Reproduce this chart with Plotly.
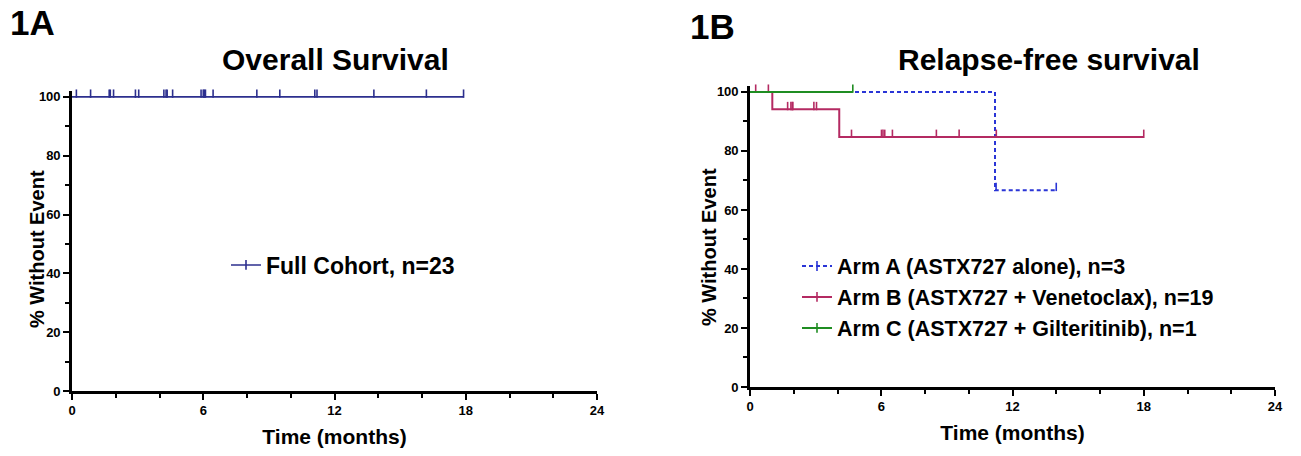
import numpy as np
import plotly.graph_objects as go

# ---------------- data ----------------
# Panel 1A: Overall survival, full cohort (no events, all censored)
os_times = [0, 17.9]
os_surv = [100, 100]
os_censor_times = [0.2, 0.85, 1.7, 1.75, 1.9, 2.9, 3.05, 4.2, 4.3, 4.35, 4.6,
                   5.9, 6.0, 6.05, 6.1, 6.45, 8.45, 9.5, 11.1, 11.2, 13.8, 16.2, 17.9]

# Panel 1B: Relapse-free survival by arm
armA_times = [0, 11.2, 14.0]
armA_surv = [100, 66.7, 66.7]
armA_censor = [11.25, 14.0]

armB_times = [0, 1.02, 4.08, 18.0]
armB_surv = [100, 94.1, 84.7, 84.7]
armB_censor = [0.26, 0.84, 1.72, 1.87, 1.93, 1.96, 2.92, 3.04,
               4.64, 6.01, 6.08, 6.16, 6.51, 8.52, 9.56, 11.26, 18.0]

armC_times = [0, 4.7]
armC_surv = [100, 100]
armC_censor = [4.7]

x_ticks = [0, 6, 12, 18, 24]
y_ticks = [0, 20, 40, 60, 80, 100]

names_A = ["Full Cohort, n=23"]
names_B = ["Arm A (ASTX727 alone), n=3",
           "Arm B (ASTX727 + Venetoclax), n=19",
           "Arm C (ASTX727 + Gilteritinib), n=1"]

# ---------------- helpers ----------------
FONT = "Arial, Liberation Sans, sans-serif"
TICK_UP = 1.1  # censor tick drawn just above the curve (percent units)


def level_at(times, surv, t):
    idx = np.searchsorted(np.asarray(times), t, side="right") - 1
    return np.asarray(surv)[idx]


def km_traces(times, surv, censor, color, name, dash, lw, xa, ya, legend):
    cy = [float(level_at(times, surv, t)) + TICK_UP for t in censor]
    line = go.Scatter(x=times, y=surv, mode="lines", line=dict(color=color, width=lw, dash=dash, shape="hv"),
                      name=name, legend=legend, legendgroup=name, showlegend=False,
                      xaxis=xa, yaxis=ya, hoverinfo="skip")
    marks = go.Scatter(x=censor, y=cy, mode="markers",
                       marker=dict(symbol="line-ns", size=6, line=dict(color=color, width=1.6)),
                       name=name, legend=legend, legendgroup=name, showlegend=False,
                       xaxis=xa, yaxis=ya, cliponaxis=False, hoverinfo="skip")
    legend_proxy = go.Scatter(x=[None], y=[None], mode="lines+markers",
                              line=dict(color=color, width=lw, dash=dash),
                              marker=dict(symbol="line-ns", size=7, line=dict(color=color, width=1.6)),
                              name=name, legend=legend, legendgroup=name, xaxis=xa, yaxis=ya)
    return [line, marks, legend_proxy]


fig = go.Figure()

for tr in km_traces(os_times, os_surv, os_censor_times, "#2c2f8e", names_A[0], "solid", 1.6, "x", "y", "legend"):
    fig.add_trace(tr)

colors_B = ["#2a35d6", "#b42a62", "#1f8d22"]
dashes_B = ["4px,3px", "solid", "solid"]
data_B = [(armA_times, armA_surv, armA_censor),
          (armB_times, armB_surv, armB_censor),
          (armC_times, armC_surv, armC_censor)]
for (t, s, c), col, d, nm in zip(data_B, colors_B, dashes_B, names_B):
    for tr in km_traces(t, s, c, col, nm, d, 2, "x2", "y2", "legend2"):
        fig.add_trace(tr)

W, H = 1301, 456
ML, MR, MT, MB = 72, 26, 86, 65
PW, PH = W - ML - MR, H - MT - MB


def xdom(a, b):
    return [(a - ML) / PW, (b - ML) / PW]


def ydom(bottom_px, top_px):
    return [(H - MB - bottom_px) / PH, (H - MB - top_px) / PH]


axis_common = dict(showline=True, linecolor="black", linewidth=2.6, ticks="outside", ticklen=6,
                   tickwidth=2, tickcolor="black", showgrid=False, zeroline=False,
                   tickfont=dict(family=FONT, size=13, color="black", weight="bold"))
xaxis_common = dict(axis_common, range=[0, 24], tickvals=x_ticks,
                    minor=dict(dtick=2, ticks="outside", ticklen=4, tickwidth=2, tickcolor="black"),
                    title=dict(text="Time (months)", font=dict(family=FONT, size=21, color="black", weight="bold"),
                               standoff=12))
yaxis_common = dict(axis_common, range=[0, 102], tickvals=y_ticks,
                    minor=dict(tickvals=[10, 30, 50, 70, 90], ticks="outside", ticklen=4, tickwidth=2,
                               tickcolor="black"))

fig.update_layout(
    width=W, height=H,
    margin=dict(l=ML, r=MR, t=MT, b=MB, autoexpand=False),
    paper_bgcolor="white", plot_bgcolor="white",
    xaxis=dict(xaxis_common, domain=xdom(72, 597), anchor="y"),
    yaxis=dict(yaxis_common, domain=ydom(391, 91), anchor="x"),
    xaxis2=dict(xaxis_common, domain=xdom(750, 1275), anchor="y2"),
    yaxis2=dict(yaxis_common, domain=ydom(387, 86), anchor="x2"),
    legend=dict(x=226 / W, y=1 - 265 / H, xref="container", yref="container", xanchor="left", yanchor="middle",
                bgcolor="rgba(0,0,0,0)",
                font=dict(family=FONT, size=23, color="black", weight="bold"), tracegroupgap=0),
    legend2=dict(x=797 / W, y=1 - 297 / H, xref="container", yref="container", xanchor="left", yanchor="middle",
                 bgcolor="rgba(0,0,0,0)",
                 font=dict(family=FONT, size=21.5, color="black", weight="bold"), tracegroupgap=0),
    showlegend=True,
)

ann_font = lambda s: dict(family=FONT, size=s, color="black", weight="bold")


def add_text(text, px_x, px_y, size, xanchor="center", angle=0):
    fig.add_annotation(text=text, x=(px_x - ML) / PW, y=(H - MB - px_y) / PH, xref="paper", yref="paper",
                       xanchor=xanchor, yanchor="middle", showarrow=False, font=ann_font(size),
                       textangle=angle)


add_text("1A", 8, 23, 35, xanchor="left")
add_text("1B", 688, 27, 35, xanchor="left")
add_text("Overall Survival", 335, 59, 30)
add_text("Relapse-free survival", 1049, 60, 30)
add_text("% Without Event", 37, 249, 20, angle=-90)
add_text("% Without Event", 709, 247, 20, angle=-90)

fig.write_html("out.html", config={"displayModeBar": False},
               post_script="document.body.style.margin='0';document.body.style.overflow='hidden';")
